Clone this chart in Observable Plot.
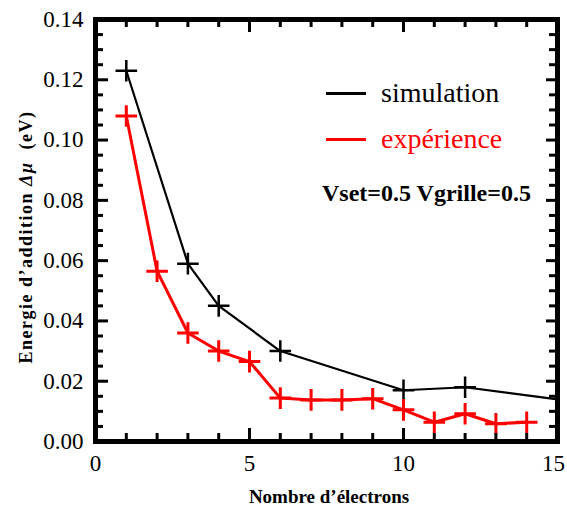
<!DOCTYPE html>
<html><head><meta charset="utf-8">
<script src="https://cdn.jsdelivr.net/npm/d3@7"></script>
<script src="https://cdn.jsdelivr.net/npm/@observablehq/plot@0.6"></script>
<style>
body{margin:0;background:#fff;}
#wrap{position:relative;width:567px;height:513px;font-family:"Liberation Serif","Times New Roman",serif;}
.abs{position:absolute;white-space:nowrap;}
.leg{font-size:28px;line-height:1;transform:translateY(-50%);}
.legline{position:absolute;height:2.5px;width:40px;}
#ylab{left:26px;top:237px;transform:translate(-50%,-50%) rotate(-90deg);font-weight:bold;font-size:18px;letter-spacing:1.5px;line-height:1;}
#xlab{left:329px;top:496px;transform:translate(-50%,-50%);font-weight:bold;font-size:19px;line-height:1;}
#cond{left:322px;top:193px;transform:translateY(-50%);font-weight:bold;font-size:24px;line-height:1;}
</style></head><body><div id="wrap"></div>
<script>
// data
const simX = [1, 3, 4, 6, 10, 12, 15];
const simY = [0.123, 0.059, 0.045, 0.030, 0.017, 0.018, 0.014];
const expX = [1, 2, 3, 4, 5, 6, 7, 8, 9, 10, 11, 12, 13, 14];
const expY = [0.108, 0.0565, 0.036, 0.030, 0.0265, 0.0144, 0.0138, 0.0138, 0.0142, 0.0105, 0.0064, 0.0092, 0.0059, 0.0064];
const xTicks = [0, 5, 10, 15];
const yTicks = [0, 0.02, 0.04, 0.06, 0.08, 0.10, 0.12, 0.14];
const seriesNames = ["simulation", "expérience"];
const seriesColors = ["#000000", "#ff0000"];
const condText = "Vset=0.5 Vgrille=0.5";

const sim = simX.map((x, i) => ({x, y: simY[i]}));
const exp = expX.map((x, i) => ({x, y: expY[i]}));

const W = 567, H = 513, mt = 19, mb = 72, ml = 95, mr = 10;
const ih = H - mt - mb, iw = W - ml - mr;
const xDom = [0, 15], yDom = [0, 0.14];
const xMinor = d3.range(0, 16, 1).filter(v => !xTicks.includes(v));
const yMinor = d3.range(0, 29).map(i => +(i * 0.005).toFixed(3)).filter(v => !yTicks.some(t => Math.abs(t - v) < 1e-9));
const tw = 3, major = 13, minor = 8;   // frame stroke hides ~2.5px of each tick

const chart = Plot.plot({
  width: W, height: H,
  marginTop: mt, marginBottom: mb, marginLeft: ml, marginRight: mr,
  x: {domain: xDom},
  y: {domain: yDom},
  style: {fontFamily: "'Liberation Serif', 'Times New Roman', serif", fontSize: "23px", background: "#fff", color: "#000"},
  marks: [
    Plot.line(sim, {x: "x", y: "y", stroke: seriesColors[0], strokeWidth: 2.2}),
    Plot.line(exp, {x: "x", y: "y", stroke: seriesColors[1], strokeWidth: 3}),
    Plot.dot(sim.filter(d => d.x < xDom[1]), {x: "x", y: "y", symbol: "plus", r: 7, stroke: seriesColors[0], strokeWidth: 2.5}),
    Plot.dot(exp, {x: "x", y: "y", symbol: "plus", r: 7, stroke: seriesColors[1], strokeWidth: 3}),
    // inward ticks: bottom, top, left, right
    Plot.tickX(xTicks, {x: d => d, insetTop: ih - major, strokeWidth: tw, stroke: "#000"}),
    Plot.tickX(xMinor, {x: d => d, insetTop: ih - minor, strokeWidth: tw, stroke: "#000"}),
    Plot.tickX(xTicks, {x: d => d, insetBottom: ih - major, strokeWidth: tw, stroke: "#000"}),
    Plot.tickX(xMinor, {x: d => d, insetBottom: ih - minor, strokeWidth: tw, stroke: "#000"}),
    Plot.tickY(yTicks, {y: d => d, insetRight: iw - major, strokeWidth: tw, stroke: "#000"}),
    Plot.tickY(yMinor, {y: d => d, insetRight: iw - minor, strokeWidth: tw, stroke: "#000"}),
    Plot.tickY(yTicks, {y: d => d, insetLeft: iw - 11, strokeWidth: tw, stroke: "#000"}),
    Plot.tickY(yMinor, {y: d => d, insetLeft: iw - minor, strokeWidth: tw, stroke: "#000"}),
    Plot.axisX(xTicks.slice(0, -1), {tickSize: 0, tickPadding: 13, tickFormat: d => String(d), label: null}),
    Plot.axisX(xTicks.slice(-1), {tickSize: 0, tickPadding: 13, dx: -4, tickFormat: d => String(d), label: null}),
    Plot.axisY(yTicks, {tickSize: 0, tickPadding: 12, tickFormat: d3.format(".2f"), label: null}),
    Plot.frame({stroke: "#000", strokeWidth: 5})
  ]
});

const wrap = document.getElementById("wrap");
wrap.appendChild(chart);

function add(html, cls, id, style) {
  const d = document.createElement("div");
  d.className = cls; if (id) d.id = id; d.innerHTML = html;
  if (style) Object.assign(d.style, style);
  wrap.appendChild(d);
  return d;
}
// legend
const legY = [93, 139];
seriesNames.forEach((n, i) => {
  add("", "legline", null, {left: "326px", top: (legY[i] - 1) + "px", background: seriesColors[i]});
  add(n, "abs leg", null, {left: "381px", top: legY[i] + "px", color: seriesColors[i]});
});
add(condText, "abs", "cond");
add("Energie d’addition <i>Δμ</i>&nbsp; (eV)", "abs", "ylab");
add("Nombre d’électrons", "abs", "xlab");
</script>
</body></html>
